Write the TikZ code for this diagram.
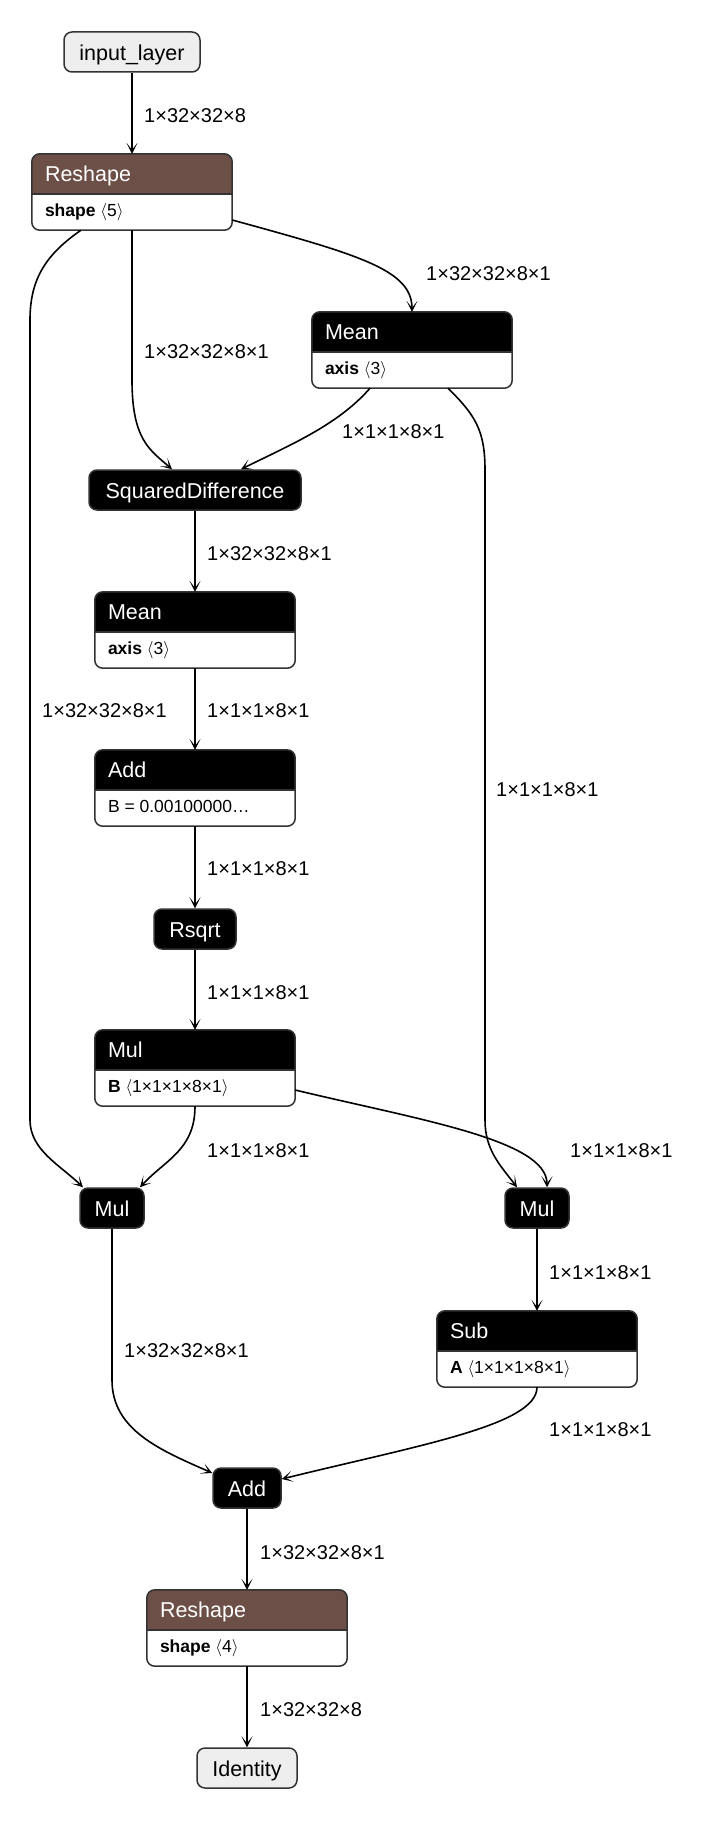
\documentclass[tikz,border=0pt]{standalone}
\usepackage{fontspec}
\setmainfont{Liberation Sans}
\usetikzlibrary{arrows.meta}
\definecolor{shapecol}{RGB}{108,79,71}
\definecolor{bordercol}{RGB}{51,51,51}
\definecolor{iofill}{RGB}{238,238,238}
\newcommand{\ftitle}{\fontsize{21.5}{26}\selectfont}
\newcommand{\flbl}{\fontsize{20}{24}\selectfont}
\newcommand{\fattr}{\fontsize{17.5}{21}\selectfont}
\newcommand{\myla}{$\langle$}
\newcommand{\myra}{$\rangle$}
\tikzset{
 border/.style={draw=bordercol, line width=1.5pt},
 simplebox/.style={border, rounded corners=8pt, inner sep=0pt, minimum height=40pt, font=\ftitle, text height=17pt, text depth=0pt},
 iobox/.style={simplebox, fill=iofill, text=black},
 opbox/.style={simplebox, fill=black, text=white},
 frame/.style={inner sep=0pt, minimum height=76pt},
 lbl/.style={anchor=west, inner sep=0pt, font=\flbl, text height=14.4pt, text depth=0pt},
 conn/.style={line width=1.6pt, -{Stealth[length=11pt,width=11pt,inset=7pt]}},
}
\newcommand{\cbox}[7]{%
 \node[frame, minimum width=#4] (#1) at (#2,#3) {};
 \fill[#5] ([yshift=-40pt]#1.north west) [rounded corners=8pt] -- (#1.north west) -- (#1.north east) [sharp corners] -- ([yshift=-40pt]#1.north east) -- cycle;
 \draw[border] ([yshift=-40pt]#1.north west) -- ([yshift=-40pt]#1.north east);
 \draw[border, rounded corners=8pt] (#1.north west) rectangle (#1.south east);
 \node[anchor=base west, inner sep=0pt, font=\ftitle, text=white] (#1-t) at ([xshift=13pt,yshift=-28pt]#1.north west) {#6};
 \node[anchor=base west, inner sep=0pt, font=\fattr] (#1-a) at ([xshift=13pt,yshift=-63pt]#1.north west) {#7};
}
\begin{document}
\begin{tikzpicture}[x=1pt,y=-1pt]
\useasboundingbox[fill=white] (0,0) rectangle (708,1822);
% nodes
\node[iobox, minimum width=136pt] (input) at (132,52) {input\_layer};
\cbox{reshape1}{132}{192}{200pt}{shapecol}{Reshape}{\textbf{shape} \myla5\myra}
\cbox{mean1}{412}{350}{200pt}{black}{Mean}{\textbf{axis} \myla3\myra}
\node[opbox, minimum width=212pt] (sqd) at (195,490) {SquaredDifference};
\cbox{mean2}{195}{630}{200pt}{black}{Mean}{\textbf{axis} \myla3\myra}
\cbox{add1}{195}{788}{200pt}{black}{Add}{B = 0.00100000…}
\node[opbox, minimum width=82pt] (rsqrt) at (195,929) {Rsqrt};
\cbox{mul1}{195}{1068}{200pt}{black}{Mul}{\textbf{B} \myla1×1×1×8×1\myra}
\node[opbox, minimum width=64pt] (mulL) at (112,1208) {Mul};
\node[opbox, minimum width=64pt] (mulR) at (537,1208) {Mul};
\cbox{sub}{537}{1349}{200pt}{black}{Sub}{\textbf{A} \myla1×1×1×8×1\myra}
\node[opbox, minimum width=68pt] (add2) at (247,1488) {Add};
\cbox{reshape2}{247}{1628}{200pt}{shapecol}{Reshape}{\textbf{shape} \myla4\myra}
\node[iobox, minimum width=100pt] (identity) at (247,1768) {Identity};
% connectors
\draw[conn] (input.south) -- (reshape1.north);
\draw[conn] ([yshift=-28pt]reshape1.east) .. controls (360,255) and (412,270) .. (mean1.north);
\draw[conn] (reshape1.south) -- (132,380) .. controls (132,440) and (150,450) .. ([xshift=-23pt]sqd.north);
\draw[conn] ([xshift=-51pt]reshape1.south) .. controls (45,255) and (30,280) .. (30,320) -- (30,1120) .. controls (30,1150) and (60,1165) .. ([xshift=-29pt]mulL.north);
\draw[conn] ([xshift=-42pt]mean1.south) .. controls (338,425) and (290,445) .. ([xshift=46pt]sqd.north);
\draw[conn] ([xshift=36pt]mean1.south) .. controls (475,415) and (485,430) .. (485,470) -- (485,1120) .. controls (485,1150) and (500,1165) .. ([xshift=-20pt]mulR.north);
\draw[conn] (sqd.south) -- (mean2.north);
\draw[conn] (mean2.south) -- (add1.north);
\draw[conn] (add1.south) -- (rsqrt.north);
\draw[conn] (rsqrt.south) -- (mul1.north);
\draw[conn] (mul1.south) .. controls (195,1150) and (165,1160) .. ([xshift=28pt]mulL.north);
\draw[conn] ([yshift=-22pt]mul1.east) .. controls (420,1120) and (547,1140) .. ([xshift=10pt]mulR.north);
\draw[conn] (mulR.south) -- (sub.north);
\draw[conn] (mulL.south) -- (112,1380) .. controls (112,1430) and (160,1450) .. ([yshift=15pt]add2.west);
\draw[conn] (sub.south) .. controls (537,1425) and (420,1445) .. ([yshift=9pt]add2.east);
\draw[conn] (add2.south) -- (reshape2.north);
\draw[conn] (reshape2.south) -- (identity.north);
% labels
\node[lbl] (l1) at (144,115) {1×32×32×8};
\node[lbl] (l2) at (426,273) {1×32×32×8×1};
\node[lbl] (l3) at (144,351) {1×32×32×8×1};
\node[lbl] (l4) at (342,431) {1×1×1×8×1};
\node[lbl] (l5) at (207,553) {1×32×32×8×1};
\node[lbl] (l6) at (42,710) {1×32×32×8×1};
\node[lbl] (l7) at (207,710) {1×1×1×8×1};
\node[lbl] (l8) at (496,789) {1×1×1×8×1};
\node[lbl] (l9) at (207,868) {1×1×1×8×1};
\node[lbl] (l10) at (207,992) {1×1×1×8×1};
\node[lbl] (l11) at (207,1150) {1×1×1×8×1};
\node[lbl] (l12) at (570,1150) {1×1×1×8×1};
\node[lbl] (l13) at (549,1272) {1×1×1×8×1};
\node[lbl] (l14) at (124,1350) {1×32×32×8×1};
\node[lbl] (l15) at (549,1429) {1×1×1×8×1};
\node[lbl] (l16) at (260,1552) {1×32×32×8×1};
\node[lbl] (l17) at (260,1709) {1×32×32×8};
\end{tikzpicture}
\end{document}
